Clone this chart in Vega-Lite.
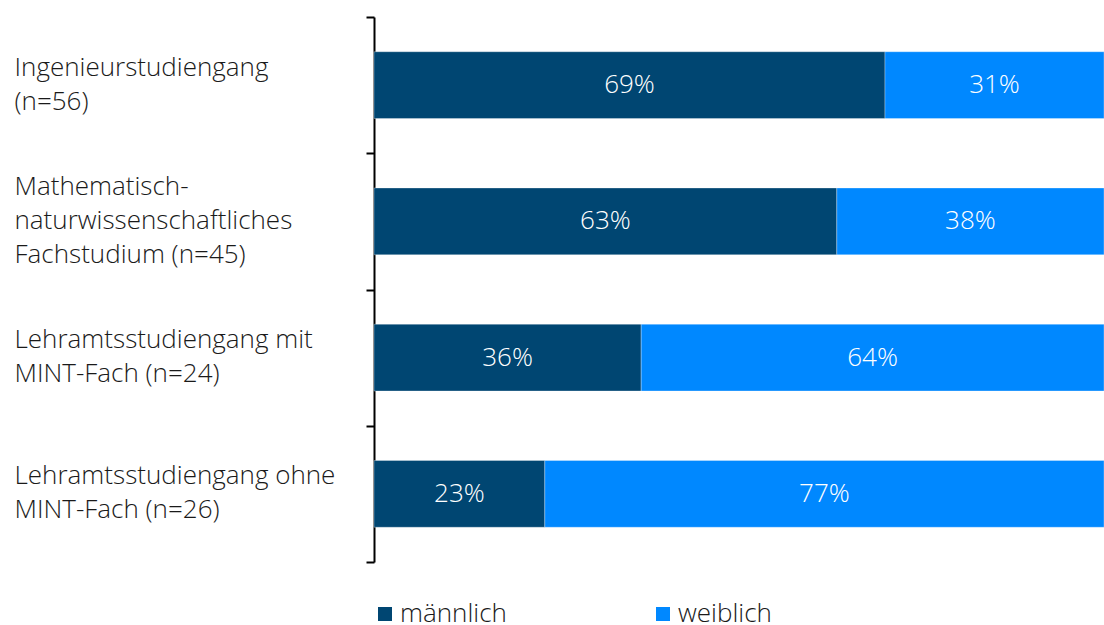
{
  "$schema": "https://vega.github.io/schema/vega-lite/v6.json",
  "width": 730,
  "height": 545,
  "autosize": {"type": "none"},
  "padding": {"left": 374, "top": 17, "right": 0, "bottom": 63},
  "background": "#ffffff",
  "view": {"stroke": null},
  "data": {
    "values": [
      {"gruppe": "\u200b|Ingenieurstudiengang|\u200b|(n=56)", "geschlecht": "männlich", "anteil": 70.0, "text": "69%"},
      {"gruppe": "\u200b|Ingenieurstudiengang|\u200b|(n=56)", "geschlecht": "weiblich", "anteil": 30.0, "text": "31%"},
      {"gruppe": "Mathematisch-|\u200b|naturwissenschaftliches|\u200b|Fachstudium (n=45)", "geschlecht": "männlich", "anteil": 63.4, "text": "63%"},
      {"gruppe": "Mathematisch-|\u200b|naturwissenschaftliches|\u200b|Fachstudium (n=45)", "geschlecht": "weiblich", "anteil": 36.6, "text": "38%"},
      {"gruppe": "\u200b|Lehramtsstudiengang mit|\u200b|MINT-Fach (n=24)", "geschlecht": "männlich", "anteil": 36.6, "text": "36%"},
      {"gruppe": "\u200b|Lehramtsstudiengang mit|\u200b|MINT-Fach (n=24)", "geschlecht": "weiblich", "anteil": 63.4, "text": "64%"},
      {"gruppe": "\u200b|Lehramtsstudiengang ohne|\u200b|MINT-Fach (n=26)", "geschlecht": "männlich", "anteil": 23.4, "text": "23%"},
      {"gruppe": "\u200b|Lehramtsstudiengang ohne|\u200b|MINT-Fach (n=26)", "geschlecht": "weiblich", "anteil": 76.6, "text": "77%"}
    ]
  },
  "encoding": {
    "y": {
      "field": "gruppe",
      "type": "nominal",
      "sort": null,
      "title": null,
      "scale": {"paddingInner": 0, "paddingOuter": 0},
      "axis": {
        "labelExpr": "split(datum.label, '|')",
        "labelAlign": "left",
        "labelBaseline": "middle",
        "labelPadding": 352,
        "labelOffset": -35,
        "labelFont": "Open Sans",
        "labelFontWeight": 300,
        "labelFontSize": 26,
        "labelLineHeight": 17,
        "labelColor": "#1a1a1a",
        "labelLimit": 400,
        "tickBand": "extent",
        "tickSize": 8,
        "tickWidth": 2,
        "tickColor": "#000000",
        "domainColor": "#000000",
        "domainWidth": 2,
        "grid": false
      }
    }
  },
  "layer": [
    {
      "mark": {"type": "bar", "height": {"band": 0.49}, "stroke": "#ffffff", "strokeWidth": 0.6, "strokeOpacity": 0.5},
      "encoding": {
        "x": {"field": "anteil", "type": "quantitative", "stack": "normalize", "axis": null, "scale": {"domain": [0, 1], "nice": false}},
        "color": {
          "field": "geschlecht",
          "type": "nominal",
          "scale": {"domain": ["männlich", "weiblich"], "range": ["#004672", "#0088FF"]},
          "legend": {
            "title": null,
            "orient": "none",
            "legendX": -2,
            "legendY": 584,
            "direction": "horizontal",
            "columns": 2,
            "columnPadding": 143,
            "symbolType": "square",
            "symbolSize": 196,
            "symbolStrokeWidth": 0,
            "labelOffset": 2,
            "labelFont": "Open Sans",
            "labelFontWeight": 300,
            "labelFontSize": 26,
            "labelColor": "#1a1a1a"
          }
        },
        "order": {"field": "geschlecht"}
      }
    },
    {
      "mark": {"type": "text", "color": "#ffffff", "font": "Open Sans", "fontWeight": 300, "fontSize": 26, "baseline": "middle", "align": "center"},
      "encoding": {
        "x": {"field": "anteil", "type": "quantitative", "stack": "normalize", "bandPosition": 0.5},
        "detail": {"field": "geschlecht"},
        "order": {"field": "geschlecht"},
        "text": {"field": "text"}
      }
    }
  ]
}
